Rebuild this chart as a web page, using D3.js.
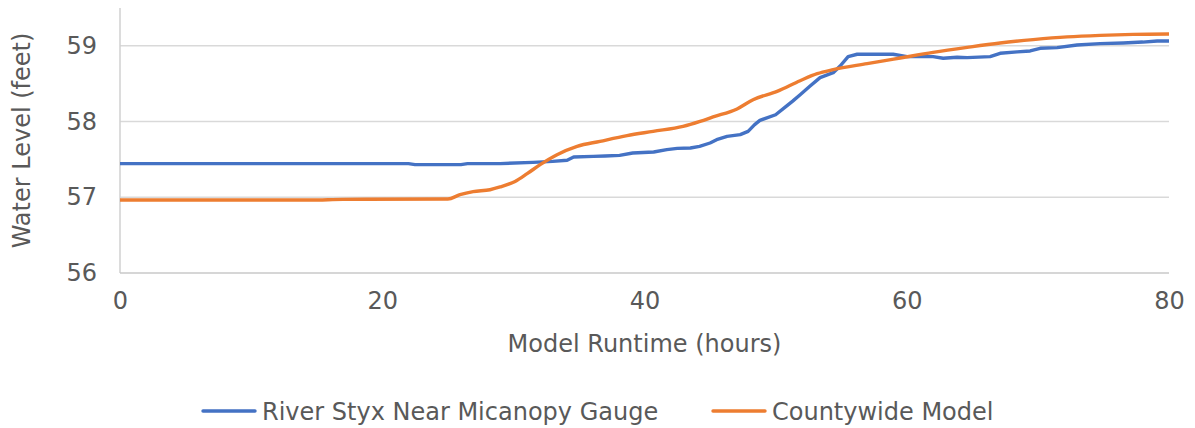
<!DOCTYPE html>
<html>
<head>
<meta charset="utf-8">
<script src="https://cdn.jsdelivr.net/npm/d3@7"></script>
<style>
  body { margin: 0; background: #fff; }
  text { font-family: "DejaVu Sans", Verdana, sans-serif; fill: #595959; }
</style>
</head>
<body>
<div class="container"></div>
<script>
// River Styx gauge readings (hours, feet)
const gaugeHours = [0, 22, 22.5, 26, 26.5, 29, 31.5, 33, 34.1, 34.6, 36.1, 37, 38.1, 39.1, 40.7, 41.7, 42.5, 43.5, 44.2, 45, 45.5, 46.3, 47.3, 47.9, 48.4, 48.8, 50, 50.8, 51.3, 51.87, 52.63, 53.39, 54.39, 54.92, 55.53, 56.22, 58.96, 60.03, 62.01, 62.78, 63.84, 64.61, 66.36, 67.12, 68.42, 69.41, 70.17, 71.47, 72.99, 74.75, 76.51, 78, 79.1, 80];
const gaugeLevel = [57.444, 57.444, 57.432, 57.432, 57.444, 57.445, 57.461, 57.474, 57.49, 57.532, 57.54, 57.545, 57.554, 57.585, 57.598, 57.629, 57.646, 57.651, 57.673, 57.717, 57.761, 57.805, 57.827, 57.871, 57.96, 58.016, 58.09, 58.2, 58.27, 58.355, 58.469, 58.58, 58.646, 58.734, 58.858, 58.889, 58.889, 58.858, 58.858, 58.836, 58.849, 58.845, 58.858, 58.902, 58.92, 58.933, 58.968, 58.977, 59.012, 59.03, 59.038, 59.05, 59.065, 59.065];

// Countywide model output (hours, feet)
const modelHours = [0, 14.5, 17, 25, 25.93, 26.93, 28.22, 28.99, 30.13, 31.05, 32.04, 33.33, 34.86, 36.61, 38.67, 40.66, 42.94, 44.24, 45.23, 47.06, 48.28, 50.11, 51.87, 53.17, 54.39, 56.98, 59.5, 62.01, 64.61, 67.12, 69.64, 72.23, 74.75, 77.27, 80];
const modelLevel = [56.964, 56.964, 56.972, 56.977, 57.034, 57.074, 57.1, 57.136, 57.21, 57.312, 57.431, 57.563, 57.673, 57.739, 57.814, 57.871, 57.937, 58.003, 58.061, 58.167, 58.289, 58.399, 58.54, 58.633, 58.686, 58.765, 58.84, 58.914, 58.98, 59.038, 59.082, 59.118, 59.139, 59.152, 59.157];

const xTicks = [0, 20, 40, 60, 80];
const yTicks = [56, 57, 58, 59];
const seriesNames = ["River Styx Near Micanopy Gauge", "Countywide Model"];
const colors = ["#4472c4", "#ed7d31"];

const width = 1195, height = 428;
const margin = { top: 8, right: 26, bottom: 155, left: 120 };
const innerWidth = width - margin.left - margin.right;
const innerHeight = height - margin.top - margin.bottom;
const fontSize = 24;

const svg = d3.select(".container").append("svg")
  .attr("width", width).attr("height", height);

const g = svg.append("g")
  .attr("transform", `translate(${margin.left}, ${margin.top})`);

const xScale = d3.scaleLinear([0, 80], [0, innerWidth]);
const yScale = d3.scaleLinear([56, 59.5], [innerHeight, 0]);

// gridlines
g.selectAll(".grid").data(yTicks.slice(1)).enter().append("line")
  .attr("x1", 0).attr("x2", innerWidth)
  .attr("y1", d => yScale(d)).attr("y2", d => yScale(d))
  .attr("stroke", "#d9d9d9").attr("stroke-width", 1.5);

// axes
const yAxis = d3.axisLeft(yScale).tickValues(yTicks).tickFormat(d3.format("d"))
  .tickSize(0).tickPadding(23);
const xAxis = d3.axisBottom(xScale).tickValues(xTicks).tickFormat(d3.format("d"))
  .tickSize(0).tickPadding(19);

const gy = g.append("g").call(yAxis)
  .attr("font-size", fontSize).attr("font-family", null);
gy.select(".domain").attr("stroke", "#d0d0d0").attr("stroke-width", 1.5)
  .attr("d", `M0,${innerHeight}V0`);
gy.selectAll("text").attr("fill", "#595959");

const gx = g.append("g").attr("transform", `translate(0, ${innerHeight})`).call(xAxis)
  .attr("font-size", fontSize).attr("font-family", null);
gx.select(".domain").attr("stroke", "#c8c8c8").attr("stroke-width", 1.5)
  .attr("d", `M0,0H${innerWidth}`);
gx.selectAll("text").attr("fill", "#595959");

// lines
const gauge = gaugeHours.map((h, i) => [h, gaugeLevel[i]]);
const model = modelHours.map((h, i) => [h, modelLevel[i]]);

g.append("path").datum(gauge)
  .attr("fill", "none").attr("stroke", colors[0]).attr("stroke-width", 3.4)
  .attr("stroke-linejoin", "round")
  .attr("d", d3.line().x(d => xScale(d[0])).y(d => yScale(d[1])));

g.append("path").datum(model)
  .attr("fill", "none").attr("stroke", colors[1]).attr("stroke-width", 3.4)
  .attr("stroke-linejoin", "round")
  .attr("d", d3.line().curve(d3.curveMonotoneX).x(d => xScale(d[0])).y(d => yScale(d[1])));

// axis titles
svg.append("text")
  .attr("x", margin.left + innerWidth / 2).attr("y", 352)
  .attr("text-anchor", "middle").attr("font-size", fontSize)
  .text("Model Runtime (hours)");

svg.append("text")
  .attr("transform", `translate(30, ${margin.top + innerHeight / 2}) rotate(-90)`)
  .attr("text-anchor", "middle").attr("font-size", fontSize)
  .text("Water Level (feet)");

// legend
const legendX = [203, 713];
const legend = svg.selectAll(".legend").data(seriesNames).enter().append("g")
  .attr("transform", (d, i) => `translate(${legendX[i]}, 411)`);
legend.append("line")
  .attr("x1", 0).attr("x2", 52)
  .attr("stroke", (d, i) => colors[i]).attr("stroke-width", 3.4)
  .attr("stroke-linecap", "round");
legend.append("text")
  .attr("x", 59).attr("y", 9)
  .attr("font-size", fontSize)
  .text(d => d);
</script>
</body>
</html>
